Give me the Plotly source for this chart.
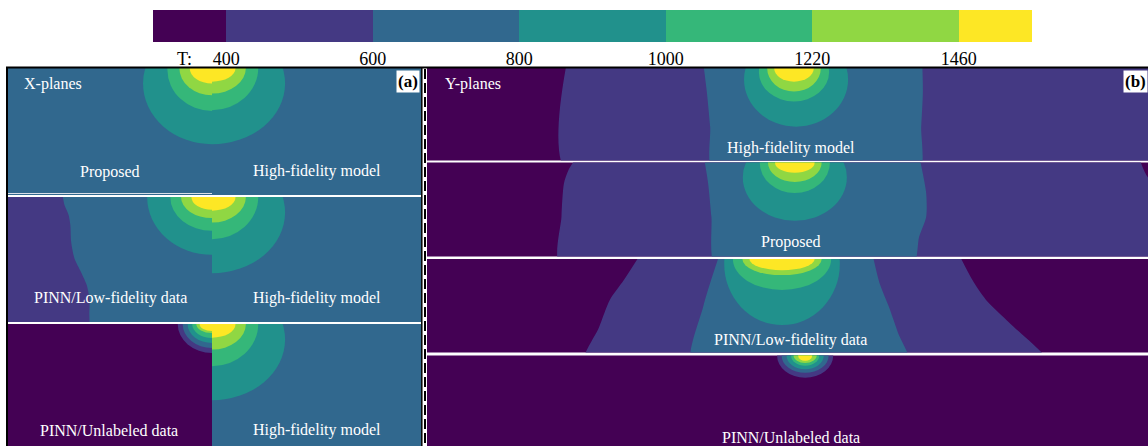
import plotly.graph_objects as go

W, H = 1148, 446
S = 41.3  # pixels per mm of the cross-sections

# ---------------- data ----------------
T_LEVELS = [400, 600, 800, 1000, 1220, 1460]
T_TICKTEXT = ['400', '600', '800', '1000', '1220', '1460']
BAND_COLORS = ['#440154', '#443983', '#31688e', '#21918c', '#35b779', '#90d743', '#fde725']

# X-planes: isotherm regions as ellipses (lower temperature bound, centre x, centre z, semi-axes a, b) in mm
XP_PROP_BG = 600
XP_PROP_LOW = [800, 1000, 1220, 1460]
XP_PROP_XC = [0.0, 0.0, 0.0, 0.0]
XP_PROP_ZC = [-0.375, -0.04, 0.0, 0.0]
XP_PROP_A = [1.67, 1.08, 0.79, 0.54]
XP_PROP_B = [1.47, 1.00, 0.66, 0.375]

XP_HF_BG = 600
XP_HF_LOW = [800, 1000, 1220, 1460]
XP_HF_XC = [0.0, 0.0, 0.0, 0.0]
XP_HF_ZC = [-0.375, 0.0, 0.0, 0.0]
XP_HF_A = [1.77, 1.12, 0.82, 0.57]
XP_HF_B = [1.47, 1.02, 0.62, 0.33]

XP_LF_BG = 600
XP_LF_R400_X = [-6.0, -3.73, -3.57, -3.47, -3.43, -3.41, -3.33, -3.17, -3.03, -2.97, -2.97, -3.03, -6.0]
XP_LF_R400_Z = [0.3, 0.3, -0.20, -0.44, -0.68, -1.09, -1.49, -1.82, -2.14, -2.46, -2.78, -3.3, -3.3]
XP_LF_LOW = [800, 1000, 1220, 1460]
XP_LF_XC = [0.0, 0.0, 0.0, 0.0]
XP_LF_ZC = [0.0, 0.0, 0.0, 0.0]
XP_LF_A = [1.57, 1.01, 0.75, 0.50]
XP_LF_B = [1.40, 0.82, 0.51, 0.31]

XP_UL_BG = None
XP_UL_LOW = [400, 600, 800, 1000, 1220, 1460]
XP_UL_XC = [0.0, 0.0, 0.0, 0.0, 0.0, 0.0]
XP_UL_ZC = [0.0, 0.0, 0.0, 0.0, 0.0, 0.0]
XP_UL_A = [0.83, 0.71, 0.59, 0.48, 0.38, 0.30]
XP_UL_B = [0.70, 0.58, 0.46, 0.34, 0.22, 0.17]

# Y-planes: x along the track relative to the heat source (mm), z depth (mm)
YP_HF_BG = None
YP_HF_R400_X = [-5.47, -5.47, 10.0, 10.0]
YP_HF_R400_Z = [0.3, -2.6, -2.6, 0.3]
YP_HF_R600_X = [-2.22, -2.11, -2.03, -1.94, 3.01, 3.08, 3.12, 3.10]
YP_HF_R600_Z = [0.3, -0.59, -1.42, -2.6, -2.6, -1.42, -0.59, 0.3]
YP_HF_LOW = [800, 1000, 1220, 1460]
YP_HF_XC = [0.05, 0.0, 0.0, 0.0]
YP_HF_ZC = [-0.28, -0.10, 0.0, 0.0]
YP_HF_A = [1.26, 0.85, 0.65, 0.48]
YP_HF_B = [1.14, 0.71, 0.57, 0.33]

YP_PR_BG = None
YP_PR_R400_X = [-5.15, -5.46, -5.57, -5.63, -5.63, 10.0, 10.0, 8.62, 8.30]
YP_PR_R400_Z = [0.3, -0.18, -0.50, -1.31, -2.6, -2.6, -0.80, -0.42, 0.3]
YP_PR_R600_X = [-2.21, -2.08, -2.00, -1.87, 2.84, 3.03, 3.20, 3.20, 3.00]
YP_PR_R600_Z = [0.3, -0.50, -1.32, -2.6, -2.6, -1.80, -1.32, -0.74, 0.3]
YP_PR_LOW = [800, 1000, 1220, 1460]
YP_PR_XC = [0.02, 0.02, 0.02, 0.02]
YP_PR_ZC = [-0.36, 0.0, 0.0, 0.0]
YP_PR_A = [1.26, 0.85, 0.65, 0.48]
YP_PR_B = [1.05, 0.74, 0.47, 0.25]

YP_LF_BG = None
YP_LF_R400_X = [-3.60, -4.12, -4.46, -4.72, -5.10, 6.20, 5.22, 4.65, 4.32, 3.90]
YP_LF_R400_Z = [0.3, -0.51, -0.99, -1.65, -2.6, -2.6, -1.55, -0.99, -0.51, 0.3]
YP_LF_R600_X = [-1.74, -2.03, -2.20, -2.47, 2.80, 2.52, 2.30, 2.07, 1.86]
YP_LF_R600_Z = [0.3, -0.58, -1.16, -2.6, -2.6, -1.79, -1.16, -0.58, 0.3]
YP_LF_LOW = [800, 1000, 1220, 1460]
YP_LF_XC = [-0.29, -0.29, -0.29, -0.29]
YP_LF_ZC = [-0.12, 0.0, 0.0, 0.0]
YP_LF_A = [1.40, 1.19, 0.96, 0.79]
YP_LF_B = [1.48, 0.75, 0.39, 0.27]

YP_UL_BG = None
YP_UL_LOW = [400, 600, 800, 1000, 1220, 1460]
YP_UL_XC = [0.27, 0.27, 0.27, 0.27, 0.27, 0.27]
YP_UL_ZC = [0.0, 0.0, 0.0, 0.0, 0.0, 0.0]
YP_UL_A = [0.68, 0.57, 0.45, 0.34, 0.28, 0.17]
YP_UL_B = [0.54, 0.42, 0.33, 0.25, 0.18, 0.13]

A_LABELS = ['Proposed', 'High-fidelity model', 'PINN/Low-fidelity data', 'High-fidelity model',
            'PINN/Unlabeled data', 'High-fidelity model']
B_LABELS = ['High-fidelity model', 'Proposed', 'PINN/Low-fidelity data', 'PINN/Unlabeled data']

# ---------------- helpers ----------------
SERIF = 'Liberation Serif, Times New Roman, serif'


def band_color(lower):
    if lower is None:
        return BAND_COLORS[0]
    return BAND_COLORS[T_LEVELS.index(lower) + 1]


def field(bg, low, xc, zc, a, b, regions=()):
    return dict(bg=bg, ell=list(zip(low, xc, zc, a, b)), regions=list(regions))


XP_PROP = field(XP_PROP_BG, XP_PROP_LOW, XP_PROP_XC, XP_PROP_ZC, XP_PROP_A, XP_PROP_B)
XP_HF = field(XP_HF_BG, XP_HF_LOW, XP_HF_XC, XP_HF_ZC, XP_HF_A, XP_HF_B)
XP_LF = field(XP_LF_BG, XP_LF_LOW, XP_LF_XC, XP_LF_ZC, XP_LF_A, XP_LF_B,
              [(400, XP_LF_R400_X, XP_LF_R400_Z)])
XP_UL = field(XP_UL_BG, XP_UL_LOW, XP_UL_XC, XP_UL_ZC, XP_UL_A, XP_UL_B)
YP_HF = field(YP_HF_BG, YP_HF_LOW, YP_HF_XC, YP_HF_ZC, YP_HF_A, YP_HF_B,
              [(400, YP_HF_R400_X, YP_HF_R400_Z), (600, YP_HF_R600_X, YP_HF_R600_Z)])
YP_PR = field(YP_PR_BG, YP_PR_LOW, YP_PR_XC, YP_PR_ZC, YP_PR_A, YP_PR_B,
              [(400, YP_PR_R400_X, YP_PR_R400_Z), (600, YP_PR_R600_X, YP_PR_R600_Z)])
YP_LF = field(YP_LF_BG, YP_LF_LOW, YP_LF_XC, YP_LF_ZC, YP_LF_A, YP_LF_B,
              [(400, YP_LF_R400_X, YP_LF_R400_Z), (600, YP_LF_R600_X, YP_LF_R600_Z)])
YP_UL = field(YP_UL_BG, YP_UL_LOW, YP_UL_XC, YP_UL_ZC, YP_UL_A, YP_UL_B)

fig = go.Figure()
layout_axes = {}
shapes = []
annotations = []
_n = [0]


def add_axes(px0, px1, py0, py1, xrange, yrange):
    _n[0] += 1
    n = _n[0]
    sx = '' if n == 1 else str(n)
    layout_axes['xaxis' + sx] = dict(domain=[px0 / W, px1 / W], range=xrange, visible=False,
                                     anchor='y' + sx, fixedrange=True)
    layout_axes['yaxis' + sx] = dict(domain=[1 - py1 / H, 1 - py0 / H], range=yrange, visible=False,
                                     anchor='x' + sx, fixedrange=True)
    return 'x' + sx, 'y' + sx


def draw_field(xr, yr, f):
    shapes.append(dict(type='rect', xref=xr + ' domain', yref=yr + ' domain', x0=0, x1=1, y0=0, y1=1,
                       fillcolor=band_color(f['bg']), line=dict(width=0), layer='below'))
    for low, xs, zs in f['regions']:
        fig.add_trace(go.Scatter(x=xs, y=zs, xaxis=xr, yaxis=yr, mode='lines', fill='toself',
                                 fillcolor=band_color(low), line=dict(width=0, shape='spline', smoothing=0.7),
                                 hoverinfo='skip', showlegend=False))
    for low, xc, zc, a, b in f['ell']:
        shapes.append(dict(type='circle', xref=xr, yref=yr, x0=xc - a, x1=xc + a, y0=zc - b, y1=zc + b,
                           fillcolor=band_color(low), line=dict(width=0), layer='above'))


def px(x):
    return x / W


def py(y):
    return 1 - y / H


def label(text, x, y, size=16, color='white', xanchor='center', **kw):
    d = dict(text=text, x=px(x), y=py(y), xref='paper', yref='paper', showarrow=False,
             xanchor=xanchor, yanchor='middle', font=dict(family=SERIF, size=size, color=color))
    d.update(kw)
    annotations.append(d)


# ---------------- panel (a): X-planes ----------------
A_X0, A_SPLIT, A_X1 = 8, 212, 421
A_ROWS = [(68, 195), (197, 322), (324, 446)]
A_FIELDS = [(XP_PROP, XP_HF), (XP_LF, XP_HF), (XP_UL, XP_HF)]
for (y0, y1), (fl, fr) in zip(A_ROWS, A_FIELDS):
    yrng = [-(y1 - y0) / S, 0]
    xr, yr = add_axes(A_X0, A_SPLIT, y0, y1, [-(A_SPLIT - A_X0) / S, 0], yrng)
    draw_field(xr, yr, fl)
    xr, yr = add_axes(A_SPLIT, A_X1, y0, y1, [0, (A_X1 - A_SPLIT) / S], yrng)
    draw_field(xr, yr, fr)

# ---------------- panel (b): Y-planes ----------------
B_X0, B_XC, B_X1 = 427, 794, 1148
B_ROWS = [(68, 160.5), (162.5, 256.5), (259, 352.5), (355.5, 446)]
B_FIELDS = [YP_HF, YP_PR, YP_LF, YP_UL]
for (y0, y1), f in zip(B_ROWS, B_FIELDS):
    xr, yr = add_axes(B_X0, B_X1, y0, y1, [-(B_XC - B_X0) / S, (B_X1 - B_XC) / S], [-(y1 - y0) / S, 0])
    draw_field(xr, yr, f)

# ---------------- discrete colour bar (end bins are half width, ticks on the bin edges) ----------------
nb = len(BAND_COLORS)
nt = len(T_TICKTEXT)
cb_edges = [-0.5] + list(range(nt)) + [nt - 0.5]
cb_x, cb_y = add_axes(153, 1032, 10, 42, [-0.5, nt - 0.5], [-0.5, 0.5])
cscale = []
for i, c in enumerate(BAND_COLORS):
    cscale += [[i / nb, c], [(i + 1) / nb, c]]
fig.add_trace(go.Heatmap(z=[list(range(nb))], x=cb_edges, y=[-0.5, 0.5], xaxis=cb_x, yaxis=cb_y,
                         colorscale=cscale, zmin=-0.5, zmax=nb - 0.5, showscale=False, hoverinfo='skip'))
cbk = 'xaxis' + cb_x[1:]
layout_axes[cbk].update(visible=True, showgrid=False, zeroline=False, showline=False, ticks='',
                        tickvals=list(range(nt)), ticktext=T_TICKTEXT,
                        tickfont=dict(family=SERIF, size=18, color='black'), ticklabelstandoff=4,
                        automargin=False)
label('T:', 184, 59, size=18, color='black')

# ---------------- labels ----------------
A_LABEL_POS = [(110, 172), (317, 171), (110, 298), (317, 298), (109, 430), (317, 430)]
for t, (x, y) in zip(A_LABELS, A_LABEL_POS):
    label(t, x, y)
B_LABEL_Y = [148, 242, 340, 437]
for t, y in zip(B_LABELS, B_LABEL_Y):
    label(t, 791, y)
label('X-planes', 22, 84, xanchor='left')
label('Y-planes', 443, 84, xanchor='left')
label('<b>(a)</b>', 420, 82, size=17, color='black', xanchor='right', bgcolor='white', borderpad=1)
label('<b>(b)</b>', 1148, 82, size=17, color='black', xanchor='right', bgcolor='white', borderpad=1)

# ---------------- frame lines ----------------
shapes += [
    dict(type='line', xref='paper', yref='paper', x0=px(6), x1=px(1148), y0=py(67.5), y1=py(67.5),
         line=dict(color='black', width=2), layer='above'),
    dict(type='line', xref='paper', yref='paper', x0=px(7), x1=px(7), y0=py(67.5), y1=py(447),
         line=dict(color='black', width=2), layer='above'),
    dict(type='line', xref='paper', yref='paper', x0=px(421.8), x1=px(421.8), y0=py(67.5), y1=py(447),
         line=dict(color='black', width=1.5), layer='above'),
    dict(type='line', xref='paper', yref='paper', x0=px(425), x1=px(425), y0=py(69), y1=py(447),
         line=dict(color='black', width=2, dash='10px,4px'), layer='above'),
    dict(type='line', xref='paper', yref='paper', x0=px(8), x1=px(212), y0=py(193.5), y1=py(193.5),
         line=dict(color='#d9dee6', width=1), layer='above'),
]

fig.update_layout(width=W, height=H, margin=dict(l=0, r=0, t=0, b=0, autoexpand=False), paper_bgcolor='white',
                  plot_bgcolor='white', showlegend=False, shapes=shapes, annotations=annotations,
                  **layout_axes)
fig.write_html('out.html', config={'displayModeBar': False, 'staticPlot': True},
               post_script="document.body.style.margin='0';")
